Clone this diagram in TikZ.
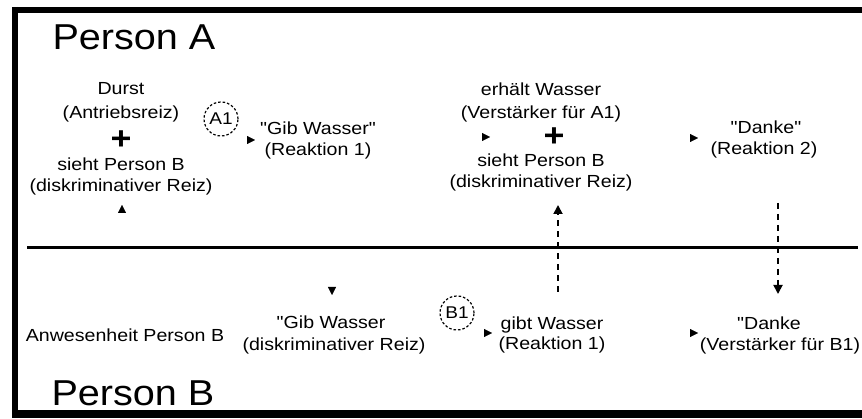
\documentclass[tikz,border=0pt]{standalone}
\usepackage{fontspec}
\setmainfont[FakeStretch=1.12]{Liberation Sans}
\newfontfamily\bigfont[FakeStretch=1.1]{Liberation Sans}
\newfontfamily\plainfont[FakeStretch=1.12]{Liberation Sans}
\newcommand{\dq}{{\plainfont"}}
\usetikzlibrary{arrows.meta}
\pgfdeclarelayer{bg}
\pgfsetlayers{bg,main}
\begin{document}
\begin{tikzpicture}[x=1pt,y=-1pt,
  txt/.style={font=\fontsize{17.5}{21}\selectfont, inner sep=1pt, anchor=base},
  plus/.style={font=\fontsize{32}{32}\selectfont\bfseries, inner sep=0pt},
  title/.style={font=\bigfont\fontsize{36}{40}\selectfont, inner sep=0pt, anchor=base},
  tag/.style={circle, draw, dash pattern=on 2.5pt off 2pt, line width=1.2pt, minimum size=34pt, inner sep=0pt, font=\fontsize{17}{17}\selectfont},
  hid/.style={draw=white, line width=0.4pt, -{Triangle[length=8pt,width=8pt,color=black]}},
  dasharr/.style={line width=1.8pt, dash pattern=on 6pt off 5pt, -{Triangle[length=9pt,width=9pt]}},
  framebar/.style={line width=6pt},
]
\useasboundingbox (0,0) rectangle (862,419);

% titles
\node[title] (pA) at (134,50) {Person A};
\node[title] (pB) at (133,406) {Person B};

% Person A, stimulus block
\node[txt] (aS1) at (121,95) {Durst};
\node[txt] (aS2) at (121,119) {(Antriebsreiz)};
\node[plus] (aSp) at (121,140) {+};
\node[txt] (aS3) at (121,171) {sieht Person B};
\node[txt] (aS4) at (121,192) {(diskriminativer Reiz)};

\node[tag] (A1) at (221,119) {A1};

\node[txt] (aR1a) at (318,135) {\dq Gib Wasser\dq};
\node[txt] (aR1b) at (318,156) {(Reaktion 1)};

\node[txt] (aC1) at (541,96) {erhält Wasser};
\node[txt] (aC2) at (541,119) {(Verstärker für A1)};
\node[plus] (aCp) at (554,137) {+};
\node[txt] (aC3) at (541,167) {sieht Person B};
\node[txt] (aC4) at (541,188) {(diskriminativer Reiz)};

\node[txt] (aR2a) at (766,134) {\dq Danke\dq};
\node[txt] (aR2b) at (764,155) {(Reaktion 2)};

% Person B
\node[txt] (bS) at (125,342) {Anwesenheit Person B};
\node[txt] (bD1) at (331,329) {\dq Gib Wasser};
\node[txt] (bD2) at (334,351) {(diskriminativer Reiz)};
\node[tag] (B1) at (457,313) {B1};
\node[txt] (bR1a) at (552,330) {gibt Wasser};
\node[txt] (bR1b) at (552,350) {(Reaktion 1)};
\node[txt] (bVa) at (769,330) {\dq Danke};
\node[txt] (bVb) at (780,351) {(Verstärker für B1)};

% arrow tips
\coordinate (t1) at (255,140);
\coordinate (t2) at (490,137);
\coordinate (t3) at (698,138);
\coordinate (t4) at (122,205);
\coordinate (t5) at (332,295);
\coordinate (t8) at (492,333);
\coordinate (t9) at (698,333);
\coordinate (s6) at (558,292);
\coordinate (t6) at (558,205);
\coordinate (s7) at (778,203);
\coordinate (t7) at (778,294);

\begin{pgfonlayer}{bg}
\draw[hid] (aSp.east |- t1) -- (t1);
\draw[hid] (aR1a.east |- t2) -- (t2);
\draw[hid] (aCp.east |- t3) -- (t3);
\draw[hid] (bS.north -| t4) -- (t4);
\draw[hid] (aR1b.south -| t5) -- (t5);
\draw[hid] (bD1.east |- t8) -- (t8);
\draw[hid] (bR1a.east |- t9) -- (t9);
\end{pgfonlayer}

% separator
\draw[line width=3pt] (27,248) -- (858,248);

% dashed connectors
\draw[dasharr] (s6) -- (t6);
\draw[dasharr] (s7) -- (t7);

% frame
\draw[framebar] (15,7) -- (15,418);
\draw[framebar] (12,10) -- (862,10);
\draw[line width=8pt] (12,414) -- (862,414);
\end{tikzpicture}
\end{document}
